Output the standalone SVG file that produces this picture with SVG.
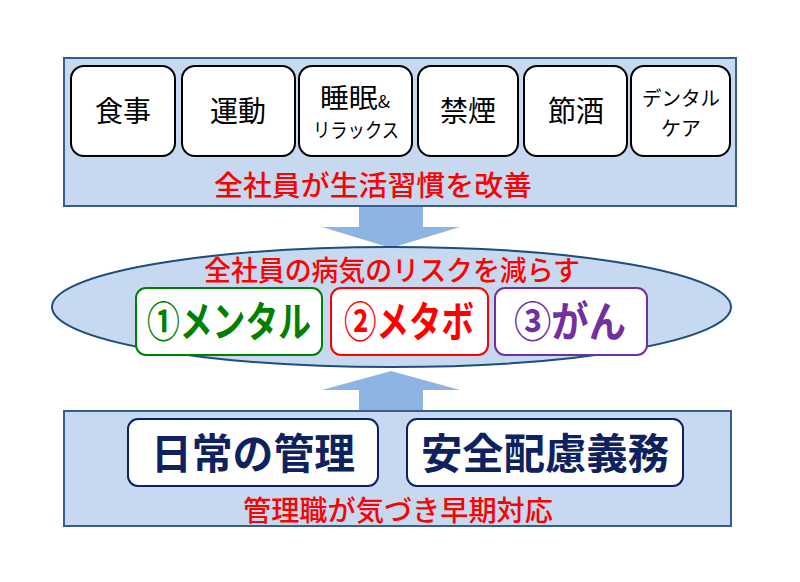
<svg xmlns="http://www.w3.org/2000/svg" width="800" height="582" viewBox="0 0 800 582">
<style>
.panel{fill:#C6D9F1;stroke:#385D8A;stroke-width:2}
.box{fill:#fff;stroke:#000;stroke-width:2}
.arrow{fill:#8EB4E3}
text{font-family:"Noto Sans CJK JP","Noto Sans",sans-serif;text-anchor:middle}
.habit{font-size:29px;fill:#000}
.small{font-size:20px;fill:#000}
.red{fill:#FF0000;font-size:28px;font-weight:500}
.big{font-size:42px;font-weight:bold}
.navy{font-size:42px;font-weight:bold;fill:#0F2260}
</style>
<rect width="800" height="582" fill="#fff"/>
<g id="connectors">
<polygon class="arrow" points="359,206 423,206 423,227 460,227 391,248 322,227 359,227"/>
<polygon class="arrow" points="391,371 460,390 423,390 423,411 359,411 359,390 322,390"/>
</g>
<g id="habits-panel">
<rect class="panel" x="64" y="58" width="672" height="148"/>
<text class="red" x="373" y="196" textLength="318" lengthAdjust="spacingAndGlyphs">全社員が生活習慣を改善</text>
</g>
<g id="n-shokuji"><rect class="box" x="71" y="66" width="104" height="90" rx="13"/><text class="habit" x="123" y="122" textLength="56" lengthAdjust="spacingAndGlyphs">食事</text></g>
<g id="n-undou"><rect class="box" x="182" y="66" width="113" height="90" rx="13"/><text class="habit" x="238" y="122" textLength="56" lengthAdjust="spacingAndGlyphs">運動</text></g>
<g id="n-suimin"><rect class="box" x="299" y="66" width="113" height="90" rx="13"/><text x="355" y="108" font-size="27" textLength="70" lengthAdjust="spacingAndGlyphs">睡眠<tspan font-size="17">&amp;</tspan></text><text class="small" x="356" y="138" font-size="22" textLength="86" lengthAdjust="spacingAndGlyphs">リラックス</text></g>
<g id="n-kinen"><rect class="box" x="418" y="66" width="100" height="90" rx="13"/><text class="habit" x="468" y="122" textLength="56" lengthAdjust="spacingAndGlyphs">禁煙</text></g>
<g id="n-sesshu"><rect class="box" x="524" y="66" width="103" height="90" rx="13"/><text class="habit" x="576" y="122" textLength="56" lengthAdjust="spacingAndGlyphs">節酒</text></g>
<g id="n-dental"><rect class="box" x="631" y="66" width="99" height="90" rx="13"/><text class="small" x="681" y="106" font-size="21" textLength="78" lengthAdjust="spacingAndGlyphs">デンタル</text><text class="small" x="681" y="136" font-size="21">ケア</text></g>
<g id="risk">
<ellipse cx="391.5" cy="307" rx="339.5" ry="60" fill="#C6D9F1" stroke="#1F4E79" stroke-width="2"/>
<text class="red" x="392" y="281" textLength="376" lengthAdjust="spacingAndGlyphs">全社員の病気のリスクを減らす</text>
</g>
<g id="n-mental"><rect x="136" y="288" width="186" height="67" rx="10" fill="#fff" stroke="#008000" stroke-width="2"/><text class="big" x="229" y="337" fill="#008000" textLength="164" lengthAdjust="spacingAndGlyphs">①メンタル</text></g>
<g id="n-metabo"><rect x="331" y="288" width="157" height="67" rx="10" fill="#fff" stroke="#FF0000" stroke-width="2"/><text class="big" x="409" y="337" fill="#FF0000" textLength="130" lengthAdjust="spacingAndGlyphs">②メタボ</text></g>
<g id="n-gan"><rect x="495" y="288" width="152" height="67" rx="10" fill="#fff" stroke="#7030A0" stroke-width="2"/><text class="big" x="570" y="337" fill="#7030A0" textLength="112" lengthAdjust="spacingAndGlyphs">③がん</text></g>
<g id="mgmt-panel">
<rect class="panel" x="64" y="411" width="667" height="115"/>
<text class="red" x="398" y="521" textLength="310" lengthAdjust="spacingAndGlyphs">管理職が気づき早期対応</text>
</g>
<g id="n-nichijo"><rect x="128" y="419" width="250" height="67" rx="10" fill="#fff" stroke="#0F2260" stroke-width="2"/><text class="navy" x="253" y="469" textLength="204" lengthAdjust="spacingAndGlyphs">日常の管理</text></g>
<g id="n-anzen"><rect x="407" y="419" width="276" height="67" rx="10" fill="#fff" stroke="#0F2260" stroke-width="2"/><text class="navy" x="545" y="469" textLength="248" lengthAdjust="spacingAndGlyphs">安全配慮義務</text></g>
</svg>
